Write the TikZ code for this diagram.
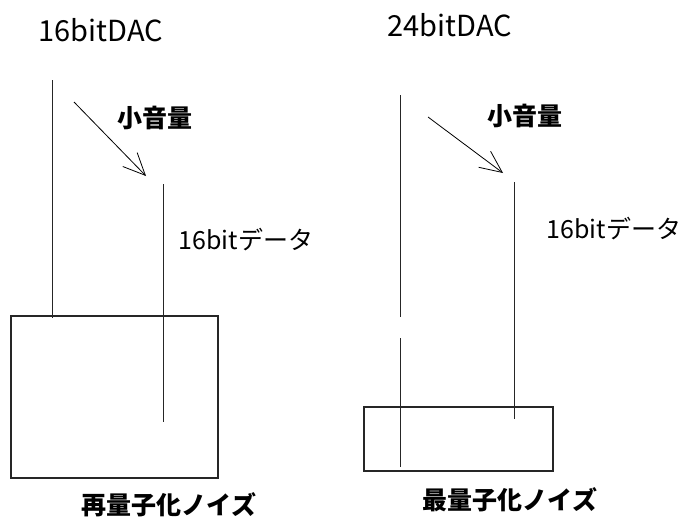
\documentclass[tikz,border=0pt]{standalone}
\usepackage{fontspec}
\newfontfamily\jp{Noto Sans CJK JP}
\usetikzlibrary{arrows.meta}
\begin{document}
\begin{tikzpicture}[x=1pt,y=-1pt,
  ln/.style={line width=1pt,draw=black!85},
  title/.style={font=\jp\fontsize{29}{31}\selectfont,inner sep=0pt},
  lbl/.style={font=\jp\bfseries\fontsize{25}{27}\selectfont,inner sep=0pt},
  data/.style={font=\jp\fontsize{25}{27}\selectfont,inner sep=0pt},
  noisebox/.style={draw=black!85,line width=1.2pt,inner sep=0pt},
  arr/.style={line width=0.8pt,-{Straight Barb[length=22pt,width=20pt,line width=0.8pt]}}]
\useasboundingbox (0,0) rectangle (690,517);
% left
\node[title] (t1) at (101,30) {16bitDAC};
\node[noisebox,minimum width=207pt,minimum height=162pt] (b1) at (114.5,397) {};
\coordinate (l1a) at (52,80); \coordinate (l1b) at (52,318);
\draw[ln] (l1a) -- (l1b);
\coordinate (d1a) at (163,184); \coordinate (d1b) at (163,422);
\draw[ln] (d1a) -- (d1b);
\coordinate (a1s) at (74,102); \coordinate (a1e) at (146,176);
\draw[arr] (a1s) -- (a1e);
\node[lbl] (s1) at (155,118) {小音量};
\node[data] (x1) at (246,240) {16bitデータ};
\node[lbl] (n1) at (169,505) {再量子化ノイズ};
% right
\node[title] (t2) at (450,25) {24bitDAC};
\node[noisebox,minimum width=189pt,minimum height=64pt] (b2) at (458.5,439) {};
\coordinate (l2a) at (400,95); \coordinate (l2b) at (400,317);
\coordinate (l2c) at (400,338); \coordinate (l2d) at (400,467);
\draw[ln] (l2a) -- (l2b);
\draw[ln] (l2c) -- (l2d);
\coordinate (d2a) at (514,182); \coordinate (d2b) at (514,419);
\draw[ln] (d2a) -- (d2b);
\coordinate (a2s) at (428,117); \coordinate (a2e) at (503,173);
\draw[arr] (a2s) -- (a2e);
\node[lbl] (s2) at (525,116) {小音量};
\node[data] (x2) at (614,229) {16bitデータ};
\node[lbl] (n2) at (510,500) {最量子化ノイズ};
\end{tikzpicture}
\end{document}
